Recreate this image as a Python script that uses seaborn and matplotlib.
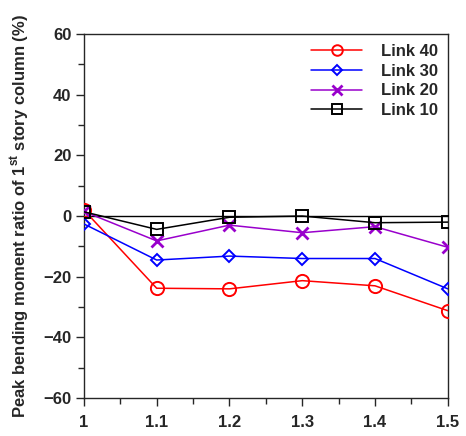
import pandas as pd
import matplotlib.pyplot as plt
import seaborn as sns
from matplotlib.ticker import MultipleLocator

# data
ratios = [1.0, 1.1, 1.2, 1.3, 1.4, 1.5]
link_40 = [2.0, -23.8, -24.0, -21.3, -23.0, -31.2]
link_30 = [-2.6, -14.5, -13.2, -14.0, -14.0, -24.0]
link_20 = [1.5, -8.2, -3.0, -5.5, -3.5, -10.3]
link_10 = [1.4, -4.4, -0.4, 0.0, -2.2, -2.0]
series_names = ["Link 40", "Link 30", "Link 20", "Link 10"]

sns.set_style("ticks")
plt.rcParams['font.family'] = ['Liberation Sans', 'DejaVu Sans']
plt.rcParams['font.weight'] = 'bold'
plt.rcParams['mathtext.fontset'] = 'custom'
plt.rcParams['mathtext.bf'] = 'Liberation Sans:bold'
plt.rcParams['mathtext.rm'] = 'Liberation Sans:bold'

df = pd.DataFrame({"ratio": ratios, "Link 40": link_40, "Link 30": link_30,
                   "Link 20": link_20, "Link 10": link_10})

styles = {
    "Link 40": dict(color="#ff0000", marker="o", markersize=9.5),
    "Link 30": dict(color="#0000ff", marker="D", markersize=6.5),
    "Link 20": dict(color="#9900cc", marker="x", markersize=9),
    "Link 10": dict(color="#000000", marker="s", markersize=9),
}

fig = plt.figure(figsize=(4.66, 4.36), dpi=100)
ax = fig.add_axes([0.180, 0.087, 0.781, 0.835])

ax.axhline(0, color="black", lw=1.0, zorder=1)

for name in series_names:
    st = styles[name]
    sns.lineplot(data=df, x="ratio", y=name, ax=ax, label=name,
                 color=st["color"], marker=st["marker"], markersize=st["markersize"],
                 markerfacecolor="none", markeredgecolor=st["color"],
                 markeredgewidth=2.0 if st["marker"] == "x" else 1.4,
                 lw=1.1, zorder=3)

ax.set_xlim(1.0, 1.5)
ax.set_ylim(-60, 60)
ax.set_xticks(ratios)
ax.set_xticklabels(["1", "1.1", "1.2", "1.3", "1.4", "1.5"])
ax.xaxis.set_minor_locator(MultipleLocator(0.05))
ax.yaxis.set_major_locator(MultipleLocator(20))
ax.yaxis.set_minor_locator(MultipleLocator(10))
ax.tick_params(which="both", direction="out", width=1.0, labelsize=12)
ax.tick_params(axis="x", which="major", length=6, pad=6)
ax.tick_params(axis="y", which="major", length=6, pad=3)
ax.tick_params(which="minor", length=4)
for lab in ax.get_xticklabels() + ax.get_yticklabels():
    lab.set_fontweight("bold")
for sp in ax.spines.values():
    sp.set_visible(True)
    sp.set_linewidth(1.0)

ax.set_xlabel("")
ax.set_ylabel("Peak bending moment ratio of 1$^{\\mathbf{st}}$ story column (%)",
              fontsize=12, fontweight="bold", labelpad=8)

leg = ax.legend(loc="upper right", frameon=False, markerscale=0.8,
                handlelength=3.1, fontsize=12, borderaxespad=0.2,
                labelspacing=0.28, handletextpad=1.1)
for t in leg.get_texts():
    t.set_fontweight("bold")

fig.savefig("out.png", dpi=100)
